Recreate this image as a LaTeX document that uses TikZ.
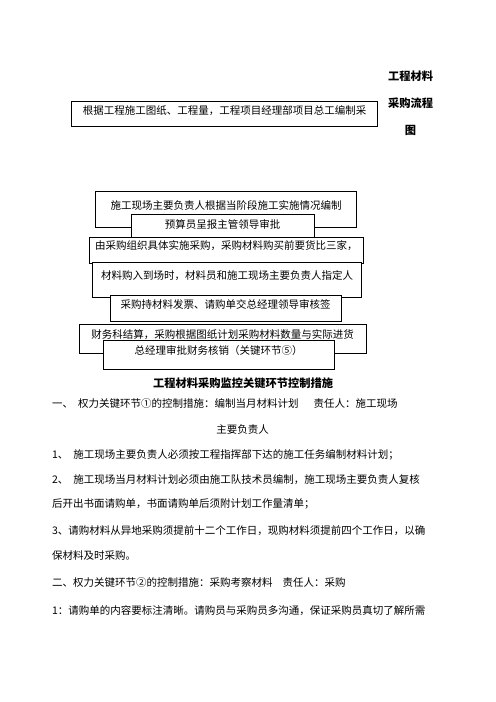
\documentclass[tikz,border=0pt]{standalone}
\usepackage{fontspec}
\newfontfamily\cjk{Noto Sans CJK SC}
\usetikzlibrary{positioning,fit}
\tikzset{
block/.style={
    rectangle,
    draw,
    fill=white,
    inner sep=0pt,
    line width=0.9pt,
    font=\cjk\fontsize{12.6}{15}\selectfont
},
heading/.style={
    inner sep=0pt,
    font=\cjk\bfseries\fontsize{13.5}{16}\selectfont
},
body/.style={
    anchor=west,
    inner sep=0pt,
    font=\cjk\fontsize{12.6}{15}\selectfont
}
}
\begin{document}
\begin{tikzpicture}[x=1.2pt,y=-1.2pt]
\useasboundingbox (0,0) rectangle (496,702);

% title on the right
\node[heading] (titleA) at (410.5,76.7) {工程材料};
\node[heading] (titleB) at (410.5,103.3) {采购流程};
\node[heading] (titleC) at (410.5,130) {图};

% flow boxes, later ones lie on top
\node[block, fit={(71.7,101.7) (377.7,126.7)}] (plan) {\raisebox{-3pt}{根据工程施工图纸、工程量，工程项目经理部项目总工编制采}};
\node[block, fit={(95.7,191.7) (356.7,227.3)}] (report) {施工现场主要负责人根据当阶段施工实施情况编制};
\node[block, fit={(131,214.3) (314,244)}] (budget) {预算员呈报主管领导审批};
\node[block, fit={(89.3,237.3) (363.3,263)}] (purchase) {由采购组织具体实施采购，采购材料购买前要货比三家，};
\node[block, fit={(92.3,262.7) (361.7,297.3)}] (arrival) {材料购入到场时，材料员和施工现场主要负责人指定人};
\node[block, fit={(110,295) (341,321)}] (invoice) {\raisebox{-2pt}{采购持材料发票、请购单交总经理领导审核签}};
\node[block, fit={(79.3,324.3) (366,353.3)}] (settle) {\raisebox{-0.5pt}{财务科结算，采购根据图纸计划采购材料数量与实际进货}};
\node[block, fit={(103.3,340.7) (334,369.3)}] (approve) {总经理审批财务核销（关键环节⑤）};

% control measures
\node[heading] (ctrl) at (243,383.5) {工程材料采购监控关键环节控制措施};
\node[body] (l1) at (52,403.3) {一、\hspace{6pt}权力关键环节①的控制措施：编制当月材料计划\hspace{18pt}责任人：施工现场};
\node[body, anchor=center] (l1b) at (242.5,429.3) {主要负责人};
\node[body] (l2) at (52,455) {1、\hspace{6pt}施工现场主要负责人必须按工程指挥部下达的施工任务编制材料计划；};
\node[body] (l3) at (52,479.3) {2、\hspace{6pt}施工现场当月材料计划必须由施工队技术员编制，施工现场主要负责人复核};
\node[body] (l4) at (52,504.3) {后开出书面请购单，书面请购单后须附计划工作量清单；};
\node[body] (l5) at (52,531) {3、请购材料从异地采购须提前十二个工作日，现购材料须提前四个工作日，以确};
\node[body] (l6) at (52,556) {保材料及时采购。};
\node[body] (l7) at (52,583) {二、权力关键环节②的控制措施：采购考察材料\hspace{12pt}责任人：采购};
\node[body] (l8) at (52,610.5) {1：请购单的内容要标注清晰。请购员与采购员多沟通，保证采购员真切了解所需};

\end{tikzpicture}
\end{document}
